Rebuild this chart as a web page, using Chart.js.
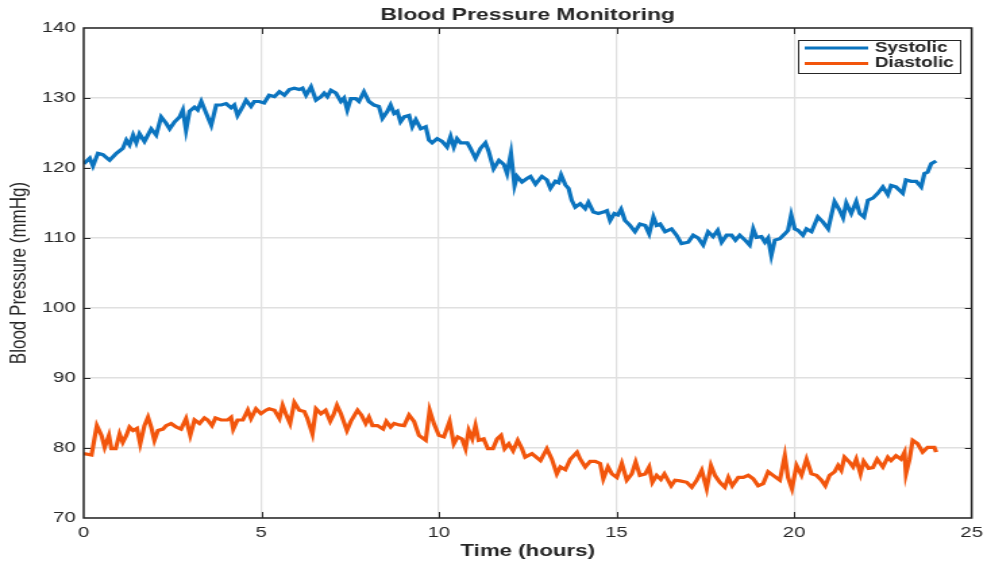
<!DOCTYPE html>
<html>
<head>
<meta charset="utf-8">
<title>Blood Pressure Monitoring</title>
<script src="https://cdn.jsdelivr.net/npm/chart.js"></script>
<style>
  html, body { margin: 0; padding: 0; background: #ffffff; }
  /* the reference is stretched sideways, so the canvas is drawn narrow and shown at 991px */
  #bp { display: block; width: 991px !important; height: 566px !important; }
</style>
</head>
<body>
<canvas id="bp" width="734" height="566" style="width:991px;height:566px"></canvas>
<script>
/* Blood pressure chart, MATLAB-like look */

const INK  = '#262626';
const GRID = '#e0e0e0';
const FONT = "'Liberation Sans', Arial, sans-serif";

const sysLabel = 'Systolic';
const diaLabel = 'Diastolic';
const sysColor = '#0b74bf';
const diaColor = '#f2550c';

const yTicks = [70, 80, 90, 100, 110, 120, 130, 140];
const xTicks = [0, 5, 10, 15, 20, 25];

const sysHours = [
  0, 0.17, 0.26, 0.40, 0.54, 0.73, 0.92, 1.10, 1.20, 1.29,
  1.39, 1.48, 1.57, 1.71, 1.90, 2.04, 2.18, 2.32, 2.42, 2.56,
  2.70, 2.79, 2.88, 2.98, 3.12, 3.21, 3.31, 3.45, 3.59, 3.73,
  3.87, 4.01, 4.15, 4.24, 4.33, 4.48, 4.57, 4.71, 4.80, 4.94,
  5.08, 5.22, 5.37, 5.51, 5.65, 5.79, 5.93, 6.07, 6.16, 6.26,
  6.40, 6.54, 6.68, 6.77, 6.86, 6.96, 7.10, 7.24, 7.33, 7.42,
  7.52, 7.66, 7.75, 7.89, 8.03, 8.17, 8.31, 8.41, 8.55, 8.64,
  8.74, 8.83, 8.92, 9.02, 9.16, 9.25, 9.35, 9.49, 9.63, 9.72,
  9.81, 9.95, 10.09, 10.23, 10.33, 10.42, 10.51, 10.61, 10.80, 10.89,
  11.03, 11.17, 11.31, 11.40, 11.54, 11.69, 11.83, 11.92, 12.03, 12.13,
  12.20, 12.34, 12.48, 12.58, 12.72, 12.90, 13.04, 13.14, 13.28, 13.37,
  13.44, 13.56, 13.65, 13.74, 13.84, 13.98, 14.12, 14.21, 14.35, 14.49,
  14.63, 14.73, 14.82, 14.94, 15.04, 15.13, 15.24, 15.38, 15.52, 15.66,
  15.81, 15.92, 16.04, 16.13, 16.23, 16.37, 16.55, 16.69, 16.83, 17.02,
  17.16, 17.30, 17.44, 17.58, 17.72, 17.85, 17.96, 18.10, 18.24, 18.35,
  18.47, 18.62, 18.75, 18.85, 18.94, 19.08, 19.18, 19.27, 19.36, 19.46,
  19.60, 19.74, 19.83, 19.92, 20.02, 20.11, 20.25, 20.35, 20.49, 20.67,
  20.81, 20.96, 21.14, 21.28, 21.38, 21.47, 21.61, 21.75, 21.85, 21.97,
  22.08, 22.22, 22.36, 22.50, 22.64, 22.73, 22.87, 23.06, 23.15, 23.30,
  23.44, 23.58, 23.67, 23.76, 23.86, 24.00
];
const sysValues = [
  120.6, 121.4, 120.3, 122.1, 121.9, 121.1, 122.1, 122.8, 124.0, 123.3,
  124.7, 123.6, 124.9, 123.8, 125.6, 124.7, 127.3, 126.4, 125.6, 126.6,
  127.3, 128.3, 125.4, 128.1, 128.7, 128.3, 129.5, 127.8, 126.1, 129.0,
  129.0, 129.2, 128.6, 129.0, 127.5, 128.8, 129.7, 128.8, 129.5, 129.5,
  129.3, 130.4, 130.2, 130.9, 130.4, 131.2, 131.4, 131.2, 131.4, 130.4,
  131.6, 129.7, 130.2, 130.7, 130.2, 131.1, 130.7, 129.5, 130.0, 128.3,
  129.9, 129.9, 129.5, 130.9, 129.5, 129.0, 128.8, 127.1, 128.1, 129.0,
  127.8, 128.1, 126.6, 127.3, 127.5, 125.9, 126.9, 125.6, 125.9, 124.0,
  123.6, 124.2, 123.8, 123.0, 124.5, 123.0, 124.2, 123.6, 123.6, 122.8,
  121.4, 122.8, 123.6, 122.4, 119.9, 121.1, 120.5, 119.2, 122.1, 117.5,
  118.8, 118.0, 118.5, 118.8, 117.7, 118.8, 118.3, 117.1, 118.1, 117.9,
  119.0, 117.6, 117.1, 115.4, 114.4, 114.9, 114.2, 115.1, 113.7, 113.5,
  113.7, 113.9, 112.5, 113.5, 113.3, 114.1, 112.5, 111.8, 110.9, 112.0,
  111.8, 110.6, 113.0, 111.8, 112.0, 110.9, 111.3, 110.4, 109.2, 109.4,
  110.4, 110.0, 109.0, 110.9, 110.2, 111.1, 109.4, 110.4, 110.4, 109.7,
  110.4, 109.7, 109.0, 111.3, 110.1, 110.2, 109.4, 110.0, 107.5, 109.7,
  109.9, 110.6, 111.1, 113.3, 111.3, 111.1, 110.4, 111.3, 110.9, 113.0,
  112.3, 111.3, 115.2, 114.0, 112.9, 115.0, 113.5, 115.2, 113.5, 113.0,
  115.4, 115.7, 116.4, 117.3, 116.2, 117.5, 117.3, 116.4, 118.3, 118.1,
  118.1, 117.3, 119.2, 119.4, 120.6, 121.0
];

const diaHours = [
  0, 0.22, 0.37, 0.50, 0.59, 0.71, 0.78, 0.90, 1.01, 1.10,
  1.20, 1.29, 1.39, 1.50, 1.59, 1.71, 1.81, 1.90, 1.99, 2.09,
  2.23, 2.32, 2.46, 2.60, 2.74, 2.88, 3.00, 3.12, 3.26, 3.40,
  3.49, 3.61, 3.71, 3.87, 4.05, 4.15, 4.21, 4.33, 4.48, 4.62,
  4.71, 4.85, 4.99, 5.13, 5.22, 5.37, 5.51, 5.60, 5.69, 5.81,
  5.93, 6.07, 6.21, 6.30, 6.44, 6.54, 6.68, 6.81, 6.94, 7.03,
  7.13, 7.24, 7.41, 7.52, 7.71, 7.82, 7.94, 8.03, 8.13, 8.27,
  8.43, 8.52, 8.64, 8.74, 8.88, 9.02, 9.16, 9.30, 9.44, 9.63,
  9.74, 9.86, 10.00, 10.14, 10.30, 10.42, 10.53, 10.65, 10.75, 10.84,
  10.94, 11.03, 11.12, 11.26, 11.38, 11.52, 11.64, 11.75, 11.85, 11.97,
  12.09, 12.22, 12.34, 12.43, 12.62, 12.86, 13.04, 13.18, 13.32, 13.42,
  13.56, 13.70, 13.89, 13.98, 14.12, 14.26, 14.40, 14.54, 14.63, 14.76,
  14.87, 15.01, 15.15, 15.29, 15.43, 15.54, 15.66, 15.81, 15.92, 16.01,
  16.13, 16.25, 16.35, 16.54, 16.65, 16.79, 16.98, 17.12, 17.26, 17.40,
  17.54, 17.66, 17.77, 17.91, 18.05, 18.15, 18.26, 18.43, 18.57, 18.71,
  18.85, 18.99, 19.13, 19.27, 19.41, 19.60, 19.74, 19.83, 19.94, 20.07,
  20.21, 20.35, 20.49, 20.63, 20.77, 20.88, 21.00, 21.14, 21.24, 21.33,
  21.42, 21.56, 21.66, 21.75, 21.87, 21.96, 22.10, 22.22, 22.34, 22.50,
  22.64, 22.73, 22.87, 23.01, 23.11, 23.15, 23.25, 23.34, 23.48, 23.62,
  23.76, 23.95, 24.00
];
const diaValues = [
  79.2, 79.0, 83.2, 81.8, 80.1, 81.8, 79.9, 79.9, 82.0, 80.8,
  81.8, 83.0, 82.5, 82.8, 80.6, 83.2, 84.4, 83.0, 81.1, 82.5,
  82.7, 83.2, 83.5, 83.0, 82.7, 84.2, 81.8, 84.0, 83.5, 84.3,
  84.0, 83.2, 84.3, 84.0, 84.0, 84.4, 82.7, 84.0, 84.0, 85.4,
  84.2, 85.6, 84.9, 85.4, 85.6, 85.4, 84.2, 86.1, 84.9, 83.5,
  86.5, 85.4, 85.2, 84.2, 82.0, 85.6, 84.9, 85.4, 83.8, 84.7,
  86.1, 84.9, 82.5, 83.8, 85.4, 84.7, 83.5, 84.4, 83.2, 83.2,
  82.7, 83.8, 83.0, 83.5, 83.3, 83.2, 84.7, 83.8, 81.8, 81.1,
  85.4, 83.5, 81.8, 81.6, 83.8, 80.6, 81.6, 81.3, 79.9, 82.5,
  81.3, 83.2, 81.1, 81.3, 79.9, 79.9, 81.3, 81.8, 79.9, 80.6,
  79.6, 81.1, 79.9, 78.7, 79.2, 78.2, 79.9, 78.4, 76.3, 77.3,
  76.9, 78.4, 79.4, 78.4, 77.3, 78.1, 78.1, 77.8, 75.6, 77.3,
  76.3, 75.8, 77.8, 75.4, 76.3, 78.0, 76.1, 76.3, 77.3, 75.1,
  76.1, 75.5, 76.3, 74.6, 75.4, 75.3, 75.1, 74.4, 75.4, 76.8,
  74.2, 77.5, 76.1, 75.1, 74.4, 75.8, 74.6, 75.8, 75.8, 76.1,
  75.6, 74.6, 74.9, 76.6, 76.1, 75.4, 78.9, 75.8, 74.2, 77.5,
  76.1, 78.4, 76.3, 76.1, 75.4, 74.6, 76.1, 76.6, 77.5, 76.8,
  78.7, 78.0, 77.3, 78.4, 76.3, 78.1, 77.1, 77.2, 78.4, 77.3,
  78.7, 78.2, 78.9, 78.4, 79.4, 76.3, 78.4, 81.1, 80.6, 79.4,
  80.1, 80.1, 79.4
];

const toPoints = (hours, values) => hours.map((h, i) => ({ x: h, y: values[i] }));

/* box round the plot, with inward ticks on all four sides */
const boxPlugin = {
  id: 'box',
  afterDatasetsDraw(chart) {
    const { ctx, chartArea: a, scales } = chart;
    ctx.save();
    ctx.strokeStyle = INK;
    ctx.lineWidth = 1;
    ctx.beginPath();
    xTicks.slice(1, -1).forEach(v => {
      const x = Math.round(scales.x.getPixelForValue(v)) + 0.5;
      ctx.moveTo(x, a.bottom); ctx.lineTo(x, a.bottom - 6);
      ctx.moveTo(x, a.top);    ctx.lineTo(x, a.top + 6);
    });
    yTicks.slice(1, -1).forEach(v => {
      const y = Math.round(scales.y.getPixelForValue(v)) + 0.5;
      ctx.moveTo(a.left, y);  ctx.lineTo(a.left + 5, y);
      ctx.moveTo(a.right, y); ctx.lineTo(a.right - 5, y);
    });
    ctx.stroke();
    ctx.lineWidth = 1.5;
    ctx.strokeRect(a.left, a.top, a.right - a.left, a.bottom - a.top);
    ctx.restore();
  },
};

/* boxed legend in the top right corner */
const legendPlugin = {
  id: 'boxLegend',
  afterDraw(chart) {
    const { ctx } = chart;
    const x0 = 591, y0 = 40, w = 120, h = 33;
    ctx.save();
    ctx.fillStyle = '#ffffff';
    ctx.fillRect(x0, y0, w, h);
    ctx.strokeStyle = INK;
    ctx.lineWidth = 1;
    ctx.strokeRect(x0 + 0.5, y0 + 0.5, w, h);
    ctx.font = 'bold 14px ' + FONT;
    ctx.textBaseline = 'middle';
    chart.data.datasets.forEach((ds, i) => {
      const y = y0 + 8 + i * 15.5;
      ctx.strokeStyle = ds.borderColor;
      ctx.lineWidth = 2.8;
      ctx.beginPath();
      ctx.moveTo(x0 + 5, y);
      ctx.lineTo(x0 + 52, y);
      ctx.stroke();
      ctx.fillStyle = INK;
      ctx.fillText(ds.label, x0 + 57, y);
    });
    ctx.restore();
  },
};

new Chart(document.getElementById('bp'), {
  type: 'line',
  data: {
    datasets: [
      {
        label: sysLabel,
        data: toPoints(sysHours, sysValues),
        borderColor: sysColor,
        borderWidth: 3.2,
        pointRadius: 0,
        tension: 0,
      },
      {
        label: diaLabel,
        data: toPoints(diaHours, diaValues),
        borderColor: diaColor,
        borderWidth: 3.2,
        pointRadius: 0,
        tension: 0,
      },
    ],
  },
  options: {
    responsive: false,
    animation: false,
    devicePixelRatio: 1,
    layout: { padding: { left: 0, right: 12, top: 0, bottom: 0 } },
    plugins: {
      legend: { display: false },
      tooltip: { enabled: false },
      title: {
        display: true,
        text: 'Blood Pressure Monitoring',
        color: INK,
        fullSize: false,
        font: { family: FONT, size: 17, weight: 'bold' },
        padding: { top: 5, bottom: 2.6 },
      },
    },
    scales: {
      x: {
        type: 'linear',
        min: 0, max: 25,
        afterBuildTicks: s => { s.ticks = xTicks.map(v => ({ value: v })); },
        afterFit: s => { s.height = 48; },
        grid: { color: GRID, lineWidth: 1.2, drawTicks: false },
        border: { display: false },
        ticks: { color: INK, padding: 6, maxRotation: 0, font: { family: FONT, size: 15 } },
        title: {
          display: true,
          text: 'Time (hours)',
          color: INK,
          font: { family: FONT, size: 16.5, weight: 'bold' },
          padding: { top: 0, bottom: 5 },
        },
      },
      y: {
        min: 70, max: 140,
        afterBuildTicks: s => { s.ticks = yTicks.map(v => ({ value: v })); },
        afterFit: s => { s.width = 62; },
        grid: { color: GRID, lineWidth: 1.5, drawTicks: false },
        border: { display: false },
        ticks: { color: INK, padding: 6, font: { family: FONT, size: 15 } },
        title: {
          display: true,
          text: 'Blood Pressure (mmHg)',
          color: INK,
          font: { family: FONT, size: 17 },
          padding: { top: 4, bottom: 4 },
        },
      },
    },
  },
  plugins: [boxPlugin, legendPlugin],
});
</script>
</body>
</html>
